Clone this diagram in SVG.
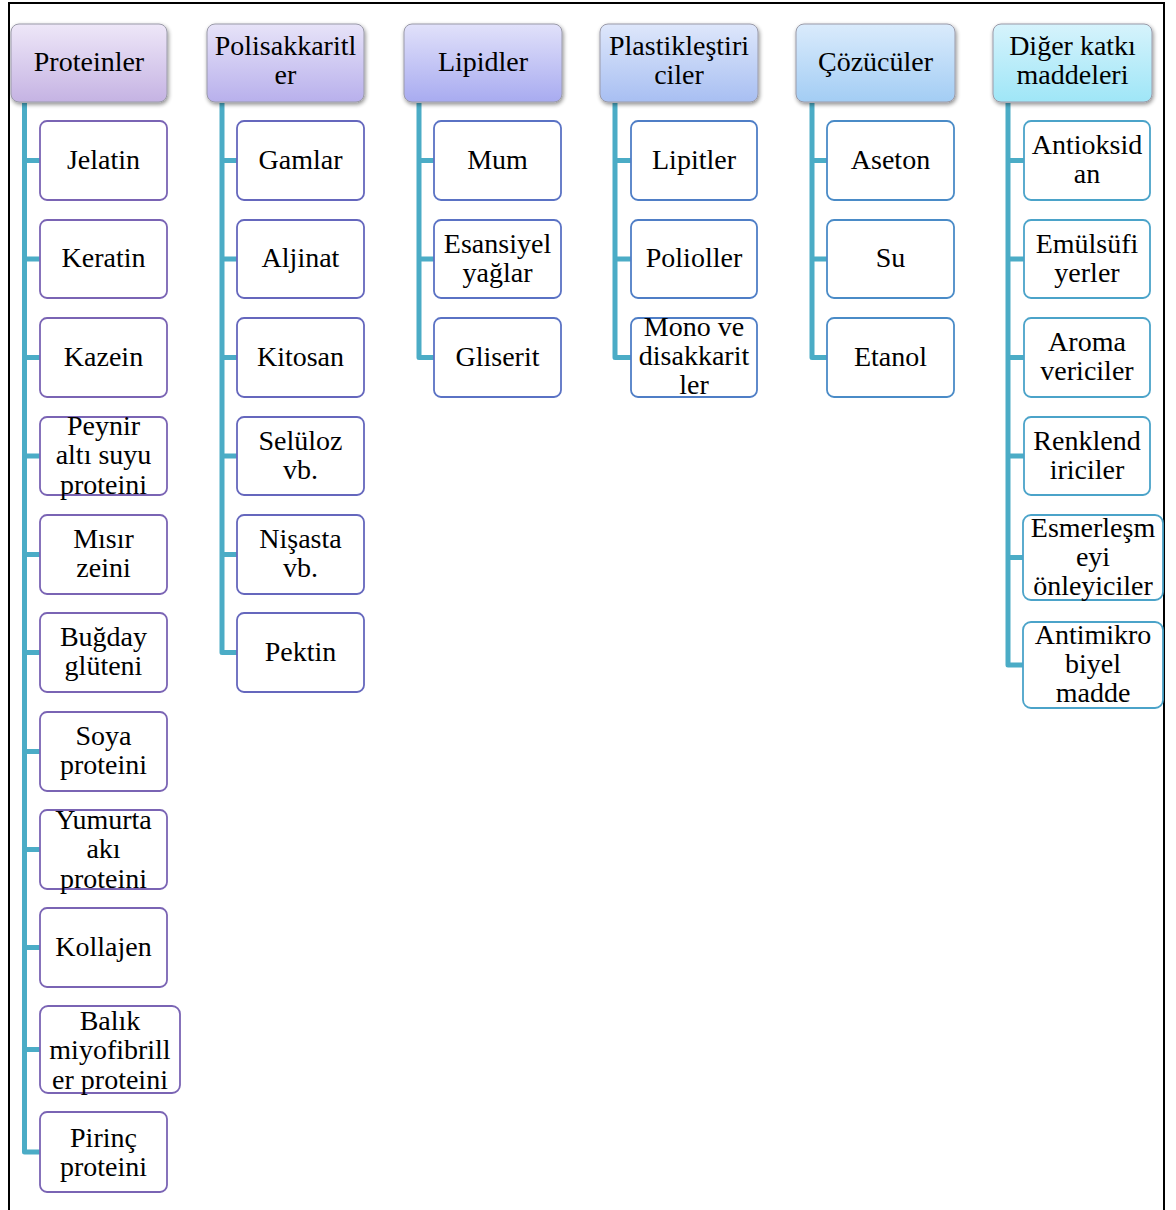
<svg xmlns="http://www.w3.org/2000/svg" width="1176" height="1210" viewBox="0 0 1176 1210">
<style>
text{font-family:"Liberation Serif","Times New Roman","DejaVu Serif",serif;font-size:28px;fill:#000;text-anchor:middle}
.hd{stroke:#9a9aa8;stroke-width:1}
.ch{fill:#fff;stroke-width:1.8}
.c1{stroke:#7a64b4}.c2{stroke:#6567bd}.c3{stroke:#5a72c4}.c4{stroke:#4f7ec6}.c5{stroke:#4a8bc7}.c6{stroke:#4ba3c9}
.cn{fill:none;stroke:#4bacc6;stroke-width:5;stroke-linejoin:round}
</style>
<defs>
<filter id="sh" x="-10%" y="-10%" width="125%" height="130%">
<feGaussianBlur in="SourceAlpha" stdDeviation="2"/>
<feOffset dx="1" dy="2" result="b"/>
<feComponentTransfer><feFuncA type="linear" slope="0.45"/></feComponentTransfer>
<feMerge><feMergeNode/><feMergeNode in="SourceGraphic"/></feMerge>
</filter>
<linearGradient id="g1" x1="0" y1="0" x2="0" y2="1"><stop offset="0" stop-color="#eee7f8"/><stop offset="1" stop-color="#c5b3e3"/></linearGradient>
<linearGradient id="g2" x1="0" y1="0" x2="0" y2="1"><stop offset="0" stop-color="#e7e3f8"/><stop offset="1" stop-color="#b8b0ec"/></linearGradient>
<linearGradient id="g3" x1="0" y1="0" x2="0" y2="1"><stop offset="0" stop-color="#e1e1fa"/><stop offset="1" stop-color="#a8abf0"/></linearGradient>
<linearGradient id="g4" x1="0" y1="0" x2="0" y2="1"><stop offset="0" stop-color="#dee7fb"/><stop offset="1" stop-color="#a8bff2"/></linearGradient>
<linearGradient id="g5" x1="0" y1="0" x2="0" y2="1"><stop offset="0" stop-color="#daebfc"/><stop offset="1" stop-color="#a3cdf4"/></linearGradient>
<linearGradient id="g6" x1="0" y1="0" x2="0" y2="1"><stop offset="0" stop-color="#d6f3fc"/><stop offset="1" stop-color="#9fe6f7"/></linearGradient>
</defs>
<rect width="1176" height="1210" fill="#fff"/>
<path d="M9,1215 V3 H1164 V1215" fill="none" stroke="#000" stroke-width="2"/>

<g id="connectors">
<path class="cn" d="M24.5,103 V1152 H40"/>
<path class="cn" d="M24.5,160.5 H40 M24.5,259 H40 M24.5,357.5 H40 M24.5,456 H40 M24.5,554.5 H40 M24.5,652.5 H40 M24.5,751.5 H40 M24.5,849.5 H40 M24.5,947.5 H40 M24.5,1049.5 H40"/>
<path class="cn" d="M222,103 V652.5 H237"/>
<path class="cn" d="M222,160.5 H237 M222,259 H237 M222,357.5 H237 M222,456 H237 M222,554.5 H237"/>
<path class="cn" d="M419,103 V357.5 H434"/>
<path class="cn" d="M419,160.5 H434 M419,259 H434"/>
<path class="cn" d="M615,103 V357.5 H631"/>
<path class="cn" d="M615,160.5 H631 M615,259 H631"/>
<path class="cn" d="M812,103 V357.5 H827"/>
<path class="cn" d="M812,160.5 H827 M812,259 H827"/>
<path class="cn" d="M1008,103 V665 H1024"/>
<path class="cn" d="M1008,160.5 H1024 M1008,259 H1024 M1008,357.5 H1024 M1008,456 H1024 M1008,557.5 H1024"/>
</g>

<g id="h1"><rect class="hd" x="11" y="24" width="156" height="78" rx="8" fill="url(#g1)" filter="url(#sh)"/><text x="89" y="71">Proteinler</text></g>
<g id="h2"><rect class="hd" x="207" y="24" width="157" height="78" rx="8" fill="url(#g2)" filter="url(#sh)"/><text x="285.5" y="55">Polisakkaritl</text><text x="285.5" y="84">er</text></g>
<g id="h3"><rect class="hd" x="404" y="24" width="158" height="78" rx="8" fill="url(#g3)" filter="url(#sh)"/><text x="483" y="71">Lipidler</text></g>
<g id="h4"><rect class="hd" x="600" y="24" width="158" height="78" rx="8" fill="url(#g4)" filter="url(#sh)"/><text x="679" y="55">Plastikleştiri</text><text x="679" y="84">ciler</text></g>
<g id="h5"><rect class="hd" x="796" y="24" width="159" height="78" rx="8" fill="url(#g5)" filter="url(#sh)"/><text x="875.5" y="71">Çözücüler</text></g>
<g id="h6"><rect class="hd" x="993" y="24" width="159" height="78" rx="8" fill="url(#g6)" filter="url(#sh)"/><text x="1072.5" y="55">Diğer katkı</text><text x="1072.5" y="84">maddeleri</text></g>

<g id="p1"><rect class="ch c1" x="40" y="121" width="127" height="79" rx="7"/><text x="103.5" y="168.5">Jelatin</text></g>
<g id="p2"><rect class="ch c1" x="40" y="220" width="127" height="78" rx="7"/><text x="103.5" y="267">Keratin</text></g>
<g id="p3"><rect class="ch c1" x="40" y="318" width="127" height="79" rx="7"/><text x="103.5" y="365.5">Kazein</text></g>
<g id="p4"><rect class="ch c1" x="40" y="417" width="127" height="78" rx="7"/><text x="103.5" y="434.5">Peynir</text><text x="103.5" y="464">altı suyu</text><text x="103.5" y="493.5">proteini</text></g>
<g id="p5"><rect class="ch c1" x="40" y="515" width="127" height="79" rx="7"/><text x="103.5" y="548">Mısır</text><text x="103.5" y="577">zeini</text></g>
<g id="p6"><rect class="ch c1" x="40" y="613" width="127" height="79" rx="7"/><text x="103.5" y="646">Buğday</text><text x="103.5" y="675">glüteni</text></g>
<g id="p7"><rect class="ch c1" x="40" y="712" width="127" height="79" rx="7"/><text x="103.5" y="745">Soya</text><text x="103.5" y="774">proteini</text></g>
<g id="p8"><rect class="ch c1" x="40" y="810" width="127" height="79" rx="7"/><text x="103.5" y="828.5">Yumurta</text><text x="103.5" y="858">akı</text><text x="103.5" y="887.5">proteini</text></g>
<g id="p9"><rect class="ch c1" x="40" y="908" width="127" height="79" rx="7"/><text x="103.5" y="955.5">Kollajen</text></g>
<g id="p10"><rect class="ch c1" x="40" y="1006" width="140" height="87" rx="8"/><text x="110" y="1029.5">Balık</text><text x="110" y="1059">miyofibrill</text><text x="110" y="1088.5">er proteini</text></g>
<g id="p11"><rect class="ch c1" x="40" y="1112" width="127" height="80" rx="7"/><text x="103.5" y="1146.5">Pirinç</text><text x="103.5" y="1175.5">proteini</text></g>

<g id="s1"><rect class="ch c2" x="237" y="121" width="127" height="79" rx="7"/><text x="300.5" y="168.5">Gamlar</text></g>
<g id="s2"><rect class="ch c2" x="237" y="220" width="127" height="78" rx="7"/><text x="300.5" y="267">Aljinat</text></g>
<g id="s3"><rect class="ch c2" x="237" y="318" width="127" height="79" rx="7"/><text x="300.5" y="365.5">Kitosan</text></g>
<g id="s4"><rect class="ch c2" x="237" y="417" width="127" height="78" rx="7"/><text x="300.5" y="449.5">Selüloz</text><text x="300.5" y="478.5">vb.</text></g>
<g id="s5"><rect class="ch c2" x="237" y="515" width="127" height="79" rx="7"/><text x="300.5" y="548">Nişasta</text><text x="300.5" y="577">vb.</text></g>
<g id="s6"><rect class="ch c2" x="237" y="613" width="127" height="79" rx="7"/><text x="300.5" y="660.5">Pektin</text></g>

<g id="l1"><rect class="ch c3" x="434" y="121" width="127" height="79" rx="7"/><text x="497.5" y="168.5">Mum</text></g>
<g id="l2"><rect class="ch c3" x="434" y="220" width="127" height="78" rx="7"/><text x="497.5" y="252.5">Esansiyel</text><text x="497.5" y="281.5">yağlar</text></g>
<g id="l3"><rect class="ch c3" x="434" y="318" width="127" height="79" rx="7"/><text x="497.5" y="365.5">Gliserit</text></g>

<g id="k1"><rect class="ch c4" x="631" y="121" width="126" height="79" rx="7"/><text x="694" y="168.5">Lipitler</text></g>
<g id="k2"><rect class="ch c4" x="631" y="220" width="126" height="78" rx="7"/><text x="694" y="267">Polioller</text></g>
<g id="k3"><rect class="ch c4" x="631" y="318" width="126" height="79" rx="7"/><text x="694" y="336">Mono ve</text><text x="694" y="365">disakkarit</text><text x="694" y="394">ler</text></g>

<g id="z1"><rect class="ch c5" x="827" y="121" width="127" height="79" rx="7"/><text x="890.5" y="168.5">Aseton</text></g>
<g id="z2"><rect class="ch c5" x="827" y="220" width="127" height="78" rx="7"/><text x="890.5" y="267">Su</text></g>
<g id="z3"><rect class="ch c5" x="827" y="318" width="127" height="79" rx="7"/><text x="890.5" y="365.5">Etanol</text></g>

<g id="d1"><rect class="ch c6" x="1024" y="121" width="126" height="79" rx="7"/><text x="1087" y="154">Antioksid</text><text x="1087" y="183">an</text></g>
<g id="d2"><rect class="ch c6" x="1024" y="220" width="126" height="78" rx="7"/><text x="1087" y="252.5">Emülsüfi</text><text x="1087" y="281.5">yerler</text></g>
<g id="d3"><rect class="ch c6" x="1024" y="318" width="126" height="79" rx="7"/><text x="1087" y="351">Aroma</text><text x="1087" y="380">vericiler</text></g>
<g id="d4"><rect class="ch c6" x="1024" y="417" width="126" height="78" rx="7"/><text x="1087" y="449.5">Renklend</text><text x="1087" y="478.5">iriciler</text></g>
<g id="d5"><rect class="ch c6" x="1023" y="515" width="140" height="85" rx="8"/><text x="1093" y="537">Esmerleşm</text><text x="1093" y="566">eyi</text><text x="1093" y="595">önleyiciler</text></g>
<g id="d6"><rect class="ch c6" x="1023" y="622" width="140" height="86" rx="8"/><text x="1093" y="644">Antimikro</text><text x="1093" y="673">biyel</text><text x="1093" y="702">madde</text></g>
</svg>
